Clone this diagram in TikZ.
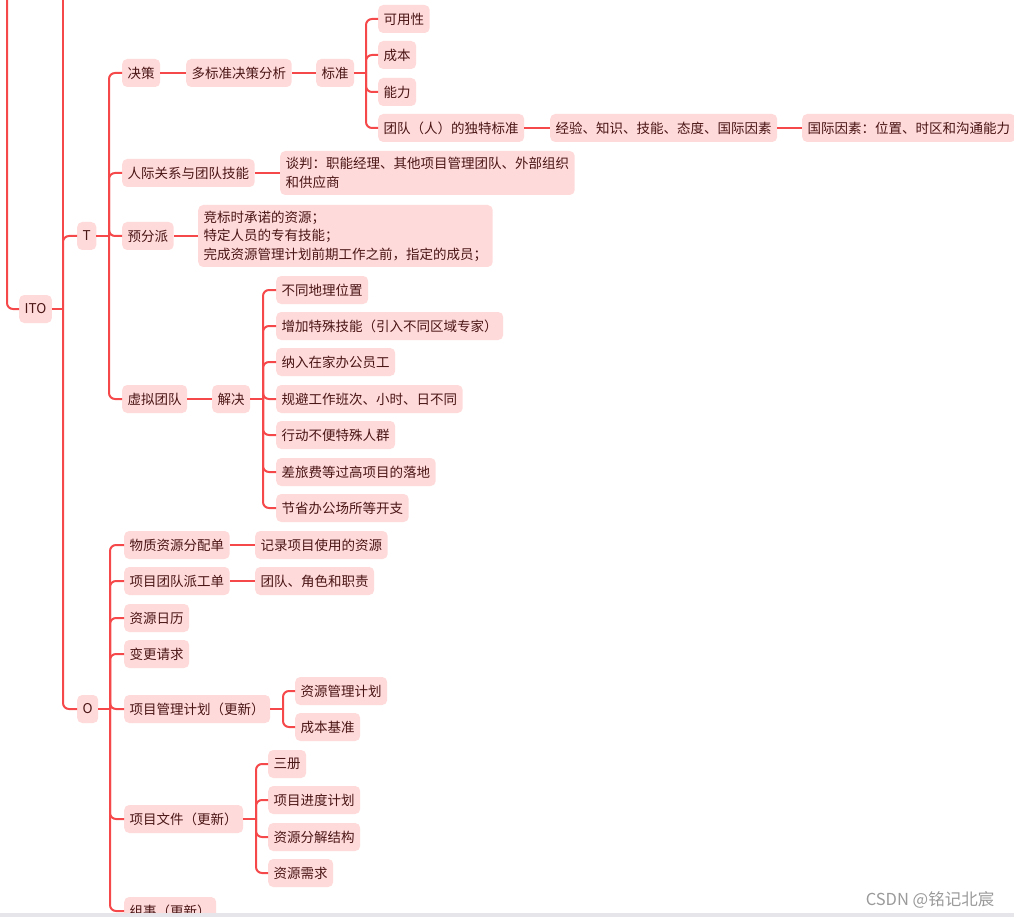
\documentclass[tikz,border=0pt]{standalone}
\usepackage{fontspec}
\newfontfamily\cjk{Noto Sans CJK SC}
\usetikzlibrary{calc}
\definecolor{boxfill}{HTML}{FFDADA}
\definecolor{linered}{HTML}{F5484A}
\definecolor{txt}{HTML}{4A1515}
\definecolor{barg}{HTML}{E6E6EA}
\definecolor{wmg}{HTML}{9A9A9A}
\begin{document}
\begin{tikzpicture}[x=1pt,y=-1pt,
  box/.style={fill=boxfill, rounded corners=5pt, text=txt,
    font=\cjk\fontsize{13.5}{18.5}\selectfont, inner xsep=5.5pt, inner ysep=0pt,
    minimum height=28pt, anchor=west},
  link/.style={draw=linered, line width=2pt},
  br/.style={link, rounded corners=6pt}]
\useasboundingbox (0,0) rectangle (1014,917);
\begin{scope}
\clip (0,0) rectangle (1014,913);
% level 1
\node[box] (ITO) at (19,309) {ITO};
\node[box] (T) at (77,236) {T};
\node[box] (O) at (77,709) {O};
% T branch
\node[box] (juece) at (122,73) {决策};
\node[box] (mcda) at (186,73) {多标准决策分析};
\node[box] (biaozhun) at (316,73) {标准};
\node[box] (kyx) at (378,19) {可用性};
\node[box] (cb) at (378,55) {成本};
\node[box] (nl) at (378,92) {能力};
\node[box] (tdbz) at (378,128) {团队（人）的独特标准};
\node[box] (jy) at (550,128) {经验、知识、技能、态度、国际因素};
\node[box] (gjys) at (802,128) {国际因素：位置、时区和沟通能力};
\node[box] (rjgx) at (122,173) {人际关系与团队技能};
\node[box, align=left, minimum height=44pt] (tanpan) at (280,173) {谈判：职能经理、其他项目管理团队、外部组织\\和供应商};
\node[box] (yfp) at (122,236) {预分派};
\node[box, align=left, minimum height=62pt] (jb) at (198,236) {竞标时承诺的资源；\\特定人员的专有技能；\\完成资源管理计划前期工作之前，指定的成员；};
\node[box] (xntd) at (122,399) {虚拟团队};
\node[box] (jj) at (212,399) {解决};
\node[box] (v1) at (276,290) {不同地理位置};
\node[box] (v2) at (276,326) {增加特殊技能（引入不同区域专家）};
\node[box] (v3) at (276,362) {纳入在家办公员工};
\node[box] (v4) at (276,399) {规避工作班次、小时、日不同};
\node[box] (v5) at (276,435) {行动不便特殊人群};
\node[box] (v6) at (276,472) {差旅费等过高项目的落地};
\node[box] (v7) at (276,508) {节省办公场所等开支};
% O branch
\node[box] (wz) at (124,545) {物质资源分配单};
\node[box] (jl) at (255,545) {记录项目使用的资源};
\node[box] (pg) at (124,581) {项目团队派工单};
\node[box] (js) at (255,581) {团队、角色和职责};
\node[box] (rl) at (124,618) {资源日历};
\node[box] (bg) at (124,654) {变更请求};
\node[box] (pmp) at (124,709) {项目管理计划（更新）};
\node[box] (zyjh) at (295,691) {资源管理计划};
\node[box] (cbjz) at (295,727) {成本基准};
\node[box] (wj) at (124,819) {项目文件（更新）};
\node[box] (sc) at (268,764) {三册};
\node[box] (jd) at (268,800) {项目进度计划};
\node[box] (fj) at (268,837) {资源分解结构};
\node[box] (xq) at (268,873) {资源需求};
\node[box] (zs) at (124,911) {组事（更新）};
% connectors: root and ITO
\coordinate (rootTop) at (7,-10);
\draw[br] (rootTop) |- (ITO.west);
\coordinate (itoS) at (63,309);
\coordinate (itoTop) at (63,-10);
\draw[link] (ITO.east) -- (itoS);
\draw[link] (itoS) -- (itoTop);
\draw[br] (itoS) |- (T.west);
\draw[br] (itoS) |- (O.west);
% T spine
\coordinate (tS) at (109,236);
\draw[link] (T.east) -- (tS);
\foreach \c in {juece,rjgx,yfp,xntd} \draw[br] (tS) |- (\c.west);
\draw[link] (juece.east) -- (mcda.west);
\draw[link] (mcda.east) -- (biaozhun.west);
\coordinate (bzS) at (366,73);
\draw[link] (biaozhun.east) -- (bzS);
\foreach \c in {kyx,cb,nl,tdbz} \draw[br] (bzS) |- (\c.west);
\draw[link] (tdbz.east) -- (jy.west);
\draw[link] (jy.east) -- (gjys.west);
\draw[link] (rjgx.east) -- (tanpan.west);
\draw[link] (yfp.east) -- (jb.west);
\draw[link] (xntd.east) -- (jj.west);
\coordinate (jjS) at (263,399);
\draw[link] (jj.east) -- (jjS);
\foreach \c in {v1,v2,v3,v4,v5,v6,v7} \draw[br] (jjS) |- (\c.west);
% O spine
\coordinate (oS) at (110,709);
\draw[link] (O.east) -- (oS);
\foreach \c in {wz,pg,rl,bg,pmp,wj,zs} \draw[br] (oS) |- (\c.west);
\draw[link] (wz.east) -- (jl.west);
\draw[link] (pg.east) -- (js.west);
\coordinate (pmpS) at (283,709);
\draw[link] (pmp.east) -- (pmpS);
\foreach \c in {zyjh,cbjz} \draw[br] (pmpS) |- (\c.west);
\coordinate (wjS) at (256,819);
\draw[link] (wj.east) -- (wjS);
\foreach \c in {sc,jd,fj,xq} \draw[br] (wjS) |- (\c.west);
\end{scope}
\fill[barg] (0,913) rectangle (1014,917);
\node[font=\cjk\fontsize{16.5}{18}\selectfont, text=wmg, inner sep=0pt] (wm) at (930,900) {CSDN @铭记北宸};
\end{tikzpicture}
\end{document}
